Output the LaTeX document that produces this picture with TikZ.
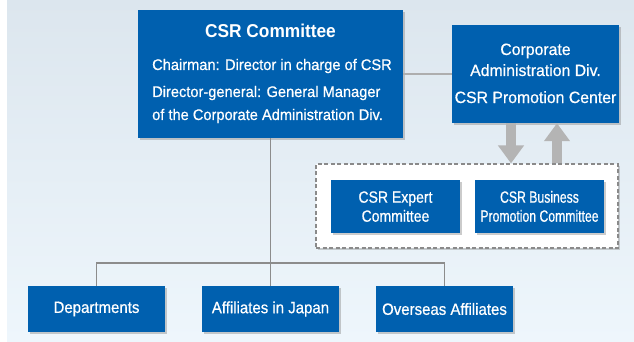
\documentclass[tikz,border=0pt]{standalone}
\usepackage{fontspec}
\setmainfont{Liberation Sans}
\newfontfamily\titlefam[FakeStretch=0.93]{Liberation Sans}
\newfontfamily\bodyfam[FakeStretch=0.95,FakeBold=0.6]{Liberation Sans}
\newfontfamily\corpfam[FakeStretch=0.97,FakeBold=0.6]{Liberation Sans}
\newfontfamily\botfam[FakeStretch=0.92,FakeBold=0.6]{Liberation Sans}
\newfontfamily\expfam[FakeStretch=0.86,FakeBold=0.6]{Liberation Sans}
\newfontfamily\busfam[FakeStretch=0.75,FakeBold=0.6]{Liberation Sans}
\usetikzlibrary{shadows,arrows.meta,calc}
\definecolor{boxblue}{HTML}{0060AF}
\definecolor{bgtop}{HTML}{DCE6EE}
\definecolor{bgbot}{HTML}{EEF6FC}
\definecolor{treegray}{HTML}{8C8C8C}
\definecolor{lightgray2}{HTML}{AEAEAE}
\definecolor{arrowgray}{HTML}{B4B4B4}
\definecolor{dashgray}{HTML}{8A8A8A}
\tikzset{
  bluebox/.style={fill=boxblue, text=white, inner sep=0pt,
    drop shadow={shadow xshift=1.5pt, shadow yshift=-2pt, fill=black!45, opacity=0.45}},
  txt/.style={text=white, inner sep=0pt},
  treeline/.style={draw=treegray, line width=1.1pt},
  sideline/.style={draw=lightgray2, line width=1.4pt},
  bigarrow/.style={draw=arrowgray, line width=10pt, -{Triangle[width=25pt,length=18pt]}},
}
\begin{document}
\begin{tikzpicture}[x=1pt,y=-1pt]
\useasboundingbox (0,0) rectangle (634,342);
\shade[top color=bgtop, bottom color=bgbot] (7,0) rectangle (634,341);

% CSR Committee
\node[bluebox, minimum width=265pt, minimum height=128pt] (csr) at (270.5,74) {};
\node[txt, anchor=base, font=\titlefam\bfseries\fontsize{18.6}{20}\selectfont] (csrt) at (270.5,38) {CSR Committee};
\node[txt, anchor=base west, font=\bodyfam\fontsize{15.4}{18}\selectfont] (csr1) at (152,70) {Chairman: Director in charge of CSR};
\node[txt, anchor=base west, font=\bodyfam\fontsize{15.4}{18}\selectfont] (csr2) at (152,97) {Director-general: General Manager};
\node[txt, anchor=base west, font=\bodyfam\fontsize{15.4}{18}\selectfont] (csr3) at (152,120) {of the Corporate Administration Div.};

% Corporate Administration Div.
\node[bluebox, minimum width=167pt, minimum height=98pt] (corp) at (535.5,74) {};
\node[txt, anchor=base, font=\corpfam\fontsize{16.3}{18}\selectfont] (corp1) at (535.5,55) {Corporate};
\node[txt, anchor=base, font=\corpfam\fontsize{16.3}{18}\selectfont] (corp2) at (535.5,76) {Administration Div.};
\node[txt, anchor=base, font=\corpfam\fontsize{16.3}{18}\selectfont] (corp3) at (535.5,103) {CSR Promotion Center};

\draw[sideline] (csr) -- (corp);

% dashed group
\node[draw=dashgray, dash pattern=on 4pt off 2.5pt, line width=1.2pt, fill=white,
  minimum width=302pt, minimum height=84pt, inner sep=0pt,
  drop shadow={shadow xshift=1.5pt, shadow yshift=-2pt, fill=black!45, opacity=0.4}] (grp) at (467,206) {};
\node[bluebox, minimum width=129pt, minimum height=53pt] (expert) at (395.5,206.5) {};
\node[txt, anchor=base, font=\expfam\fontsize{16.3}{18}\selectfont] (exp1) at (395.5,202.7) {CSR Expert};
\node[txt, anchor=base, font=\expfam\fontsize{16.3}{18}\selectfont] (exp2) at (395.5,221.7) {Committee};
\node[bluebox, minimum width=129pt, minimum height=53pt] (business) at (539.5,206.5) {};
\node[txt, anchor=base, font=\busfam\fontsize{16.3}{18}\selectfont] (bus1) at (539.5,202.7) {CSR Business};
\node[txt, anchor=base, font=\busfam\fontsize{16.3}{18}\selectfont] (bus2) at (539.5,221.7) {Promotion Committee};

% arrows
\coordinate (xdown) at (511,0);
\coordinate (xup) at (557,0);
\draw[bigarrow] (corp.south -| xdown) -- (grp.north -| xdown);
\draw[bigarrow] (grp.north -| xup) -- (corp.south -| xup);

% bottom row
\node[bluebox, minimum width=137pt, minimum height=46pt, font=\botfam\fontsize{16.3}{18}\selectfont] (dept) at (96.5,309) {Departments};
\node[bluebox, minimum width=137pt, minimum height=46pt, font=\botfam\fontsize{16.3}{18}\selectfont] (japan) at (270.5,309) {Affiliates in Japan};
\node[bluebox, minimum width=137pt, minimum height=46pt, font=\botfam\fontsize{16.3}{18}\selectfont] (overseas) at (444.5,309) {Overseas Affiliates};

% tree
\coordinate (bar) at (0,263);
\draw[treeline] (csr.south) -- (japan.north);
\draw[treeline] (dept.north) -- (dept.north |- bar) -- (overseas.north |- bar) -- (overseas.north);
\end{tikzpicture}
\end{document}
